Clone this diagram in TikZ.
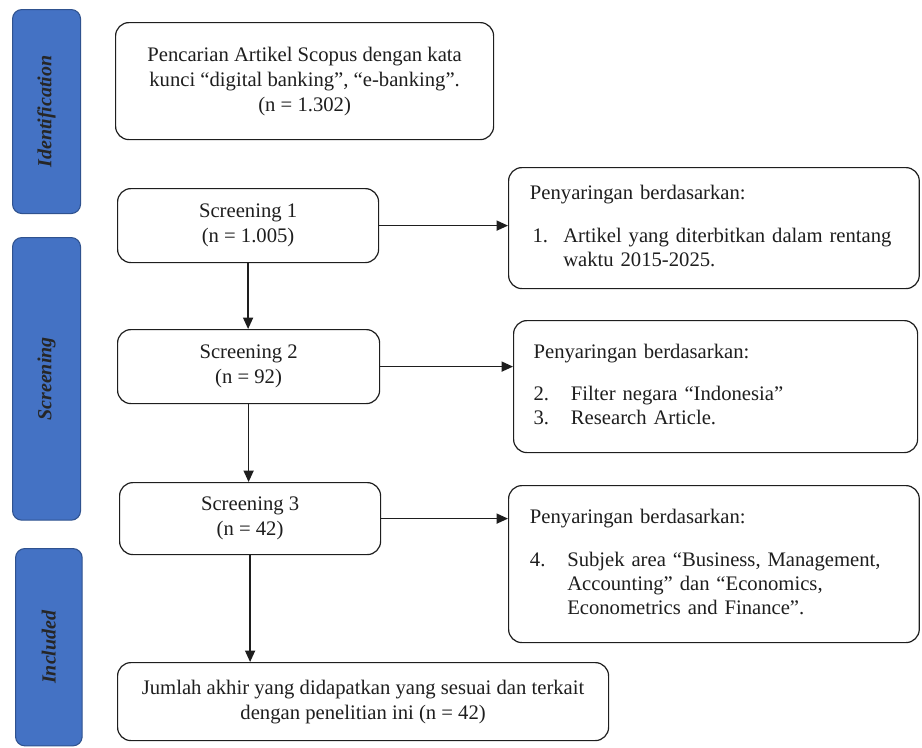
\documentclass[tikz,border=0pt]{standalone}
\usepackage{fontspec}
\setmainfont{Liberation Serif}
\usetikzlibrary{arrows.meta,positioning}
\definecolor{barblue}{RGB}{68,114,196}
\definecolor{barline}{RGB}{47,82,143}
\definecolor{inkgray}{RGB}{30,30,30}
\tikzset{
  stagebar/.style={rectangle, rounded corners=7pt, draw=barline, fill=barblue, line width=0.8pt,
                   anchor=north west, inner sep=0pt},
  stagelabel/.style={rotate=90, font=\fontsize{15}{17}\selectfont\bfseries\itshape, text=black!85},
  flowbox/.style={rectangle, rounded corners=10pt, draw=inkgray, line width=0.9pt, fill=white,
                  align=center, anchor=north west, inner sep=0pt, text=inkgray,
                  font=\fontsize{15.5}{18.75}\selectfont},
  notebox/.style={flowbox, align=left, inner xsep=16pt, font=\fontsize{15.5}{18}\selectfont},
  arrow/.style={-{Triangle[length=8.5pt, width=7.5pt]}, line width=1pt, inkgray},
}
\begin{document}
\begin{tikzpicture}[x=0.75pt, y=-0.75pt]
\useasboundingbox (0,0) rectangle (922,747);

% stage bars on the left
\node[stagebar, minimum width=51pt, minimum height=153pt] (ident) at (12,9) {};
\node[stagebar, minimum width=51pt, minimum height=212pt] (screen) at (12,237) {};
\node[stagebar, minimum width=50pt, minimum height=148pt] (incl) at (15,548) {};
\node[stagelabel] (identtxt) at (ident) {Identification};
\node[stagelabel] (screentxt) at (screen) {Screening};
\node[stagelabel] (incltxt) at (incl) {Included};

% main flow
\node[flowbox, minimum width=283.5pt, minimum height=87.75pt] (search) at (115,22)
  {Pencarian Artikel Scopus dengan kata\\kunci “digital banking”, “e-banking”.\\(n = 1.302)};
\node[flowbox, minimum width=195.75pt, minimum height=55.5pt] (scr1) at (117,188)
  {Screening 1\\(n = 1.005)};
\node[flowbox, minimum width=196.5pt, minimum height=55.5pt] (scr2) at (117,329)
  {Screening 2\\(n = 92)};
\node[flowbox, minimum width=195.75pt, minimum height=54pt] (scr3) at (119,482)
  {Screening 3\\(n = 42)};
\node[flowbox, minimum width=368.25pt, minimum height=58.5pt] (final) at (117,662)
  {Jumlah akhir yang didapatkan yang sesuai dan terkait\\dengan penelitian ini (n = 42)};

% filter notes
\node[notebox, text width=276pt, minimum height=90.75pt] (note1) at (508,167)
  {\begin{tabular}{@{}p{25pt}@{}l@{}}
   \multicolumn{2}{@{}l@{}}{Penyaringan berdasarkan:}\\[14pt]
   \hspace{2pt}1. & Artikel yang diterbitkan dalam rentang\\
      & waktu 2015-2025.
   \end{tabular}};
\node[notebox, text width=273pt, minimum height=99pt, inner xsep=15pt] (note2) at (513,320)
  {\begin{tabular}{@{}p{28pt}@{}l@{}}
   \multicolumn{2}{@{}l@{}}{Penyaringan berdasarkan:}\\[14pt]
   2. & Filter negara “Indonesia”\\
   3. & Research Article.
   \end{tabular}};
\node[notebox, text width=276pt, minimum height=117.75pt] (note3) at (508,485)
  {\begin{tabular}{@{}p{28pt}@{}l@{}}
   \multicolumn{2}{@{}l@{}}{Penyaringan berdasarkan:}\\[14pt]
   4. & Subjek area “Business, Management,\\
      & Accounting” dan “Economics,\\
      & Econometrics and Finance”.
   \end{tabular}};

% connectors
\foreach \a/\b in {scr1/note1, scr2/note2, scr3/note3}
  \draw[arrow] (\a.east) -- (\a.east -| \b.west);
\foreach \a/\b in {scr1/scr2, scr2/scr3}
  \draw[arrow] (\a.south) -- (\a.south |- \b.north);
\draw[arrow] (scr3.south) -- (scr3.south |- final.north);
\end{tikzpicture}
\end{document}
